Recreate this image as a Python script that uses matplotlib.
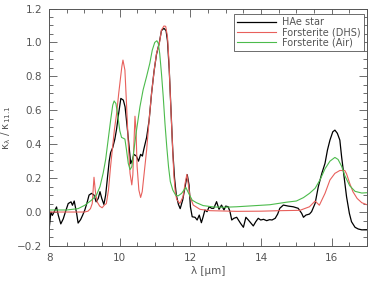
import matplotlib
matplotlib.use('Agg')
import matplotlib.pyplot as plt
from matplotlib.ticker import MultipleLocator

# HAe star spectrum
star_wl = [8.0, 8.05, 8.09, 8.14, 8.21, 8.26, 8.33, 8.40, 8.46, 8.54, 8.62, 8.66, 8.71,
           8.78, 8.82, 8.89, 8.95, 9.01, 9.08, 9.13, 9.20, 9.27, 9.33, 9.39, 9.44, 9.49,
           9.55, 9.60, 9.65, 9.70, 9.74, 9.80, 9.86, 9.91, 9.96, 10.03, 10.10, 10.15,
           10.21, 10.27, 10.31, 10.36, 10.40, 10.47, 10.53, 10.59, 10.64, 10.68, 10.76,
           10.83, 10.90, 10.97, 11.04, 11.12, 11.18, 11.25, 11.31, 11.35, 11.40, 11.45,
           11.50, 11.55, 11.60, 11.66, 11.71, 11.78, 11.85, 11.91, 11.96, 12.00, 12.05,
           12.13, 12.19, 12.25, 12.31, 12.36, 12.41, 12.47, 12.53, 12.60, 12.66, 12.74,
           12.81, 12.88, 12.95, 13.00, 13.07, 13.12, 13.17, 13.23, 13.31, 13.36, 13.42,
           13.50, 13.57, 13.64, 13.72, 13.78, 13.85, 13.92, 13.99, 14.07, 14.16, 14.24,
           14.31, 14.40, 14.47, 14.53, 14.63, 14.77, 14.91, 15.05, 15.15, 15.20, 15.27,
           15.37, 15.43, 15.53, 15.62, 15.72, 15.81, 15.88, 15.95, 16.03, 16.09, 16.16,
           16.23, 16.28, 16.35, 16.42, 16.50, 16.56, 16.66, 16.75, 16.85, 17.0]
star_k = [-0.10, 0.0, -0.02, 0.0, 0.03, -0.02, -0.07, -0.04, 0.0, 0.05, 0.06, 0.04, 0.065,
          -0.01, -0.065, -0.045, -0.018, 0.012, 0.06, 0.10, 0.11, 0.10, 0.06, 0.08, 0.12, 0.08,
          0.045, 0.10, 0.20, 0.30, 0.35, 0.38, 0.43, 0.49, 0.57, 0.67, 0.66, 0.62,
          0.50, 0.37, 0.285, 0.31, 0.34, 0.33, 0.30, 0.34, 0.33, 0.37, 0.44,
          0.54, 0.70, 0.83, 0.93, 1.00, 1.07, 1.083, 1.07, 1.01, 0.84, 0.60,
          0.36, 0.20, 0.10, 0.045, 0.02, 0.07, 0.15, 0.22, 0.16, 0.03, -0.028,
          -0.031, -0.047, -0.018, -0.063, -0.028, 0.012, 0.002, 0.031, 0.022, 0.022, 0.061,
          0.016, 0.041, 0.012, 0.035, 0.031, 0.002, -0.047, -0.037, -0.031, -0.047, -0.067,
          -0.09, -0.031, -0.047, -0.067, -0.082, -0.057, -0.037, -0.047, -0.043, -0.051, -0.045,
          -0.047, -0.037, -0.012, 0.022, 0.041, 0.035, 0.031, 0.022, -0.008, -0.031, -0.018,
          -0.012, 0.002, 0.051, 0.149, 0.228, 0.287, 0.366, 0.424, 0.473, 0.483, 0.464,
          0.424, 0.326, 0.208, 0.09, -0.008, -0.057, -0.09, -0.10, -0.105, -0.105]

# forsterite, DHS shape model
dhs_wl = [8.0, 8.5, 9.0, 9.1, 9.17, 9.22, 9.27, 9.31, 9.36, 9.43, 9.50, 9.56, 9.62, 9.68,
          9.74, 9.79, 9.85, 9.91, 9.97, 10.02, 10.06, 10.09, 10.145, 10.19, 10.24, 10.29,
          10.34, 10.37, 10.40, 10.43, 10.46, 10.49, 10.54, 10.59, 10.635, 10.69, 10.76,
          10.83, 10.90, 10.975, 11.04, 11.12, 11.18, 11.25, 11.30, 11.35, 11.39, 11.44,
          11.49, 11.53, 11.57, 11.61, 11.70, 11.79, 11.85, 11.90, 11.95, 11.99, 12.08,
          12.27, 12.55, 13.31, 14.0, 14.53, 15.1, 15.37, 15.53, 15.65, 15.81, 15.95, 16.09,
          16.23, 16.37, 16.42, 16.51, 16.60, 16.72, 16.85, 17.0]
dhs_k = [0.0, 0.0, 0.0, 0.005, 0.02, 0.05, 0.205, 0.12, 0.06, 0.035, 0.025, 0.04, 0.05, 0.13,
         0.27, 0.37, 0.49, 0.58, 0.70, 0.79, 0.86, 0.896, 0.837, 0.64, 0.405, 0.228,
         0.16, 0.22, 0.40, 0.565, 0.48, 0.27, 0.13, 0.086, 0.12, 0.228, 0.366,
         0.54, 0.70, 0.837, 0.935, 0.994, 1.073, 1.097, 1.095, 1.034, 0.896, 0.64,
         0.405, 0.22, 0.12, 0.075, 0.05, 0.09, 0.17, 0.222, 0.15, 0.09, 0.041,
         0.016, 0.008, 0.004, 0.005, 0.008, 0.01, 0.031, 0.065, 0.04, 0.11, 0.189, 0.228,
         0.245, 0.245, 0.225, 0.169, 0.12, 0.08, 0.055, 0.043]

# forsterite, measured in air
air_wl = [8.0, 8.5, 8.82, 9.01, 9.2, 9.34, 9.44, 9.53, 9.60, 9.67, 9.74, 9.80, 9.84, 9.89,
          9.95, 10.0, 10.05, 10.1, 10.145, 10.19, 10.24, 10.29, 10.34, 10.40, 10.475, 10.57,
          10.66, 10.76, 10.85, 10.92, 10.99, 11.05, 11.09, 11.13, 11.18, 11.23, 11.28,
          11.33, 11.38, 11.43, 11.50, 11.58, 11.65, 11.75, 11.87, 11.95, 12.05, 12.17,
          12.36, 12.65, 12.93, 13.31, 13.78, 14.25, 14.72, 15.0, 15.2, 15.37, 15.53, 15.67,
          15.81, 15.95, 16.09, 16.18, 16.28, 16.37, 16.51, 16.66, 16.85, 17.0]
air_k = [0.012, 0.012, 0.02, 0.04, 0.07, 0.10, 0.15, 0.23, 0.31, 0.425, 0.54, 0.63, 0.655, 0.64,
         0.56, 0.48, 0.44, 0.435, 0.43, 0.366, 0.287, 0.25, 0.267, 0.366, 0.484, 0.62,
         0.72, 0.80, 0.877, 0.955, 1.0, 1.01, 0.994, 0.935, 0.817, 0.68, 0.52,
         0.385, 0.267, 0.18, 0.13, 0.10, 0.095, 0.11, 0.145, 0.11, 0.07, 0.055,
         0.038, 0.03, 0.028, 0.031, 0.037, 0.043, 0.058, 0.065, 0.085, 0.11, 0.14, 0.19,
         0.255, 0.30, 0.322, 0.31, 0.27, 0.215, 0.155, 0.122, 0.112, 0.114]

grey = '#555555'
plt.rcParams['font.family'] = 'DejaVu Sans'
plt.rcParams['font.size'] = 7.5
plt.rcParams['mathtext.default'] = 'regular'

fig = plt.figure(figsize=(3.78, 2.84), dpi=100)
ax = fig.add_axes([0.130, 0.134, 0.841, 0.836])

ax.plot(star_wl, star_k, color='black', lw=0.9, label='HAe star')
ax.plot(dhs_wl, dhs_k, color='#e8605c', lw=0.8, label='Forsterite (DHS)')
ax.plot(air_wl, air_k, color='#4cbb4c', lw=0.8, label='Forsterite (Air)')

ax.set_xlim(8, 17)
ax.set_ylim(-0.2, 1.2)
ax.xaxis.set_major_locator(MultipleLocator(2))
ax.xaxis.set_minor_locator(MultipleLocator(0.5))
ax.yaxis.set_major_locator(MultipleLocator(0.2))
ax.yaxis.set_minor_locator(MultipleLocator(0.05))
ax.yaxis.set_major_formatter(plt.FuncFormatter(lambda v, p: f'{v:.1f}'.replace('-', '\u2212')))
ax.tick_params(which='both', direction='in', top=True, right=True, colors=grey,
               labelcolor=grey, width=0.6)
ax.tick_params(which='major', length=6, pad=5)
ax.tick_params(which='minor', length=3)
for s in ax.spines.values():
    s.set_color(grey)
    s.set_linewidth(0.7)

ax.set_xlabel('\u03bb [\u03bcm]', color=grey, labelpad=2)
ax.set_ylabel(r'$\kappa_{\lambda}$ / $\kappa_{11.1}$', color=grey, labelpad=3)

leg = ax.legend(loc='upper right', bbox_to_anchor=(0.99, 0.977), borderaxespad=0,
                fancybox=False, edgecolor=grey, framealpha=1, handlelength=4.0,
                handletextpad=0.6, labelspacing=0.0, borderpad=0.35, fontsize=7)
leg.get_frame().set_linewidth(0.6)
for t in leg.get_texts():
    t.set_color(grey)

fig.savefig('out.png', dpi=100)
